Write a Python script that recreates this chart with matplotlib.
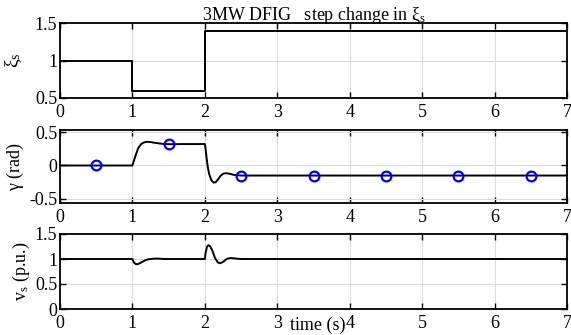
import matplotlib
matplotlib.use('Agg')
import matplotlib.pyplot as plt

plt.rcParams['font.family'] = ['Liberation Serif', 'DejaVu Serif']
plt.rcParams['mathtext.fontset'] = 'custom'
plt.rcParams['mathtext.rm'] = 'Liberation Serif'
plt.rcParams['mathtext.it'] = 'Liberation Serif'

# stator voltage reference xi_s (step changes)
t_xi = [0, 1, 1, 2, 2, 7]
xi = [1.0, 1.0, 0.6, 0.6, 1.4, 1.4]

# gamma response (rad)
t_g = [0, 1.0, 1.02, 1.05, 1.08, 1.12, 1.16, 1.2, 1.25, 1.3, 1.4, 1.5, 1.7, 2.0,
       2.01, 2.02, 2.04, 2.06, 2.09, 2.12, 2.15, 2.18, 2.22, 2.26, 2.3, 2.35,
       2.4, 2.5, 2.6, 7.0]
gamma = [0, 0, 0.07, 0.17, 0.26, 0.32, 0.345, 0.354, 0.35, 0.34, 0.325, 0.318,
         0.32, 0.32, 0.25, 0.15, -0.02, -0.13, -0.22, -0.255, -0.25, -0.21,
         -0.15, -0.12, -0.115, -0.125, -0.14, -0.15, -0.15, -0.15]

# markers on gamma
t_mk = [0.5, 1.5, 2.5, 3.5, 4.5, 5.5, 6.5]
g_mk = [0.0, 0.318, -0.15, -0.15, -0.15, -0.15, -0.15]

# stator voltage v_s (p.u.)
t_v = [0, 1.0, 1.02, 1.05, 1.08, 1.12, 1.17, 1.22, 1.28, 1.35, 1.45, 2.0,
       2.01, 2.03, 2.05, 2.07, 2.1, 2.14, 2.18, 2.21, 2.25, 2.3, 2.35, 2.42,
       2.5, 2.6, 7.0]
vs = [1.0, 1.0, 0.93, 0.895, 0.9, 0.93, 0.97, 0.995, 1.005, 1.008, 1.0, 1.0,
      1.12, 1.25, 1.275, 1.26, 1.18, 1.02, 0.93, 0.915, 0.94, 1.0, 1.02, 1.01,
      1.0, 1.0, 1.0]

fig = plt.figure(figsize=(5.71, 3.35), dpi=100)
W, H = 571.0, 335.0
L, R = 60, 567
boxes = [(23, 98), (130, 203), (234, 309)]
axs = [fig.add_axes([L / W, 1 - b / H, (R - L) / W, (b - t) / H]) for t, b in boxes]

def style(ax, yticks, ylim):
    ax.set_xlim(0, 7)
    ax.set_ylim(*ylim)
    ax.set_xticks(range(0, 8))
    ax.set_yticks(yticks)
    ax.set_yticklabels([('%g' % v) for v in yticks])
    ax.grid(True, color='#dcdcdc', linewidth=0.8)
    ax.set_axisbelow(True)
    ax.tick_params(direction='in', top=True, right=True, length=4, width=1,
                   labelsize=13, pad=2)
    ax.tick_params(axis='x', pad=4)
    for s in ax.spines.values():
        s.set_linewidth(1.3)

ax = axs[0]
ax.plot(t_xi, xi, color='black', linewidth=1.4)
style(ax, [0.5, 1, 1.5], (0.5, 1.5))
ax.set_ylabel(r'$\xi_s$', fontsize=14, labelpad=8)
ax.set_title(r'3MW DFIG   step change in $\xi_s$', fontsize=13, pad=2)

ax = axs[1]
ax.plot(t_g, gamma, color='black', linewidth=1.4)
ax.plot(t_mk, g_mk, 'o', markerfacecolor='none', markeredgecolor='blue',
        markersize=7, markeredgewidth=1.6)
style(ax, [-0.5, 0, 0.5], (-0.56, 0.53))
ax.set_ylabel(r'$\gamma$ (rad)', fontsize=13, labelpad=2)

ax = axs[2]
ax.plot(t_v, vs, color='black', linewidth=1.4)
style(ax, [0, 0.5, 1, 1.5], (0, 1.5))
ax.set_ylabel(r'v$_s$ (p.u.)', fontsize=13, labelpad=2)
fig.text(318 / W, 1 - 325 / H, 'time (s)', fontsize=13, ha='center', va='center')

fig.savefig('out.png', dpi=100)
